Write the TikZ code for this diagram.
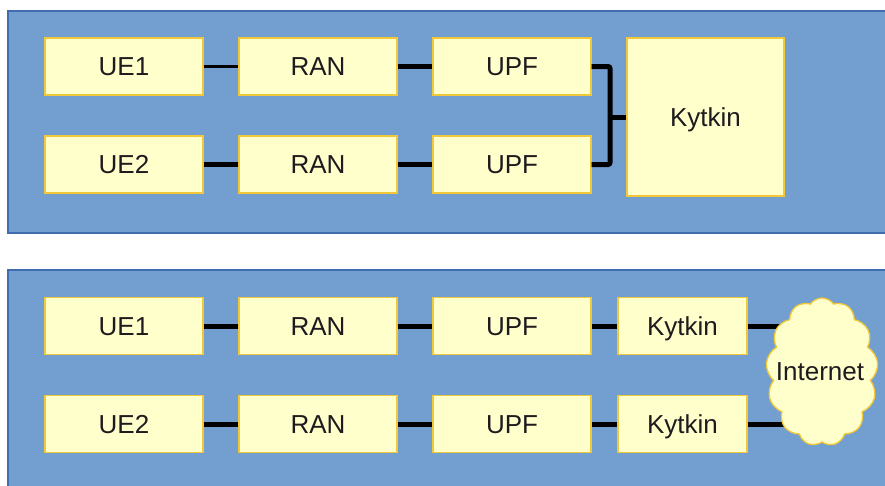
\documentclass[tikz,border=0pt]{standalone}
\usepackage{fontspec}
\setmainfont{Liberation Sans}
\usetikzlibrary{shapes.symbols}

\definecolor{panelfill}{HTML}{729FCF}
\definecolor{paneledge}{HTML}{3F6EAE}
\definecolor{boxfill}{HTML}{FFFFCC}
\definecolor{boxedge}{HTML}{F2C838}
\definecolor{inktext}{HTML}{1E1A1E}

\tikzset{
  panel/.style={fill=panelfill, draw=paneledge, line width=1.6pt},
  unit/.style={rectangle, fill=boxfill, draw=boxedge, line width=1.3pt,
    minimum width=158, minimum height=57, inner sep=0pt,
    text height=18.6pt, text depth=0pt,
    text=inktext, font=\fontsize{26}{30}\selectfont},
  link/.style={line width=5pt, draw=black},
  thinlink/.style={line width=2.2pt, draw=black},
}

\begin{document}
\begin{tikzpicture}[x=1pt, y=-1pt]
  \useasboundingbox (0,0) rectangle (885,485);
  \clip (0,0) rectangle (885,485);
  \fill[white] (0,0) rectangle (885,485);

  % two background panels (they run past the right and bottom edges)
  \draw[panel] (8,11) rectangle (900,233);
  \draw[panel] (8,270) rectangle (900,500);

  % upper setup: two chains sharing one Kytkin box
  \node[unit] (ue1a)  at (124,66.5)  {UE1};
  \node[unit] (ran1a) at (318,66.5)  {RAN};
  \node[unit] (upf1a) at (512,66.5)  {UPF};
  \node[unit] (ue2a)  at (124,164.5) {UE2};
  \node[unit] (ran2a) at (318,164.5) {RAN};
  \node[unit] (upf2a) at (512,164.5) {UPF};
  \node[unit, minimum width=157, minimum height=158] (kyta) at (705.5,117) {Kytkin};
  \coordinate (join) at (610,117);

  \draw[thinlink] (ue1a) -- (ran1a);
  \draw[link] (ran1a) -- (upf1a);
  \draw[link] (ue2a) -- (ran2a);
  \draw[link] (ran2a) -- (upf2a);
  \draw[link, rounded corners=2pt] (upf1a.east) -| (join) |- (upf2a.east);
  \draw[link] (join) -- (kyta.west);

  % lower setup: a Kytkin box per chain, both reaching the Internet
  \node[unit] (ue1b)  at (124,326) {UE1};
  \node[unit] (ran1b) at (318,326) {RAN};
  \node[unit] (upf1b) at (512,326) {UPF};
  \node[unit, minimum width=129] (kyt1b) at (682.5,326) {Kytkin};
  \node[unit] (ue2b)  at (124,424) {UE2};
  \node[unit] (ran2b) at (318,424) {RAN};
  \node[unit] (upf2b) at (512,424) {UPF};
  \node[unit, minimum width=129] (kyt2b) at (682.5,424) {Kytkin};
  \coordinate (netc) at (822,372);

  \draw[link] (ue1b) -- (ran1b);
  \draw[link] (ran1b) -- (upf1b);
  \draw[link] (upf1b) -- (kyt1b);
  \draw[link] (ue2b) -- (ran2b);
  \draw[link] (ran2b) -- (upf2b);
  \draw[link] (upf2b) -- (kyt2b);
  \draw[link] (kyt1b.east) -- (kyt1b.east -| netc);
  \draw[link] (kyt2b.east) -- (kyt2b.east -| netc);

  % the label is allowed to reach into the puffs, so it takes no width
  \node[cloud, cloud puffs=13, cloud puff arc=110, cloud ignores aspect,
    fill=boxfill, draw=boxedge, line width=1.3pt,
    minimum width=112, minimum height=148, inner sep=0pt,
    text=inktext, font=\fontsize{26}{30}\selectfont] (net) at (netc)
    {\makebox[0pt]{\hspace*{-4pt}Internet}};
\end{tikzpicture}
\end{document}
